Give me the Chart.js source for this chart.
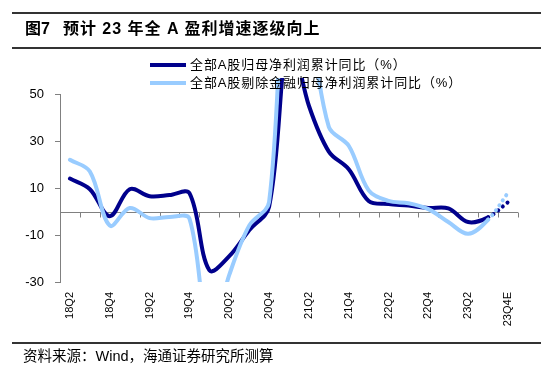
<!DOCTYPE html>
<html>
<head>
<meta charset="utf-8">
<script src="https://cdn.jsdelivr.net/npm/chart.js@4.4.1/dist/chart.umd.min.js"></script>
<style>
  html, body { margin: 0; padding: 0; background: #fff; }
  body { width: 554px; height: 379px; position: relative; overflow: hidden;
         font-family: "Liberation Sans", Arial, "Noto Sans CJK SC", sans-serif; }
  #c { position: absolute; left: 0; top: 0; }
  .rule { position: absolute; left: 12px; width: 529px; background: #333; }
  #title { position: absolute; left: 25px; top: 19px; font-size: 16px; font-weight: bold; color: #000; white-space: nowrap; line-height: 20px; letter-spacing: 1px; }
  #title .num { margin-right: 13px; letter-spacing: 0; }
  .leg { position: absolute; left: 150px; height: 18px; white-space: nowrap; }
  .leg .sw { position: absolute; left: 0; top: 7px; width: 36px; height: 4px; }
  .leg .tx { position: absolute; left: 40px; top: 0; font-size: 13px; line-height: 18px; color: #000; letter-spacing: 0.9px; }
  #foot { position: absolute; left: 23px; top: 346px; font-size: 14.5px; line-height: 20px; color: #000; white-space: nowrap; }
</style>
</head>
<body>
<canvas id="c" width="554" height="379"></canvas>
<div class="rule" style="top:12px;height:2px;"></div>
<div id="title"><span class="num">图7</span>预计 23 年全 A 盈利增速逐级向上</div>
<div class="rule" style="top:47px;height:2px;"></div>
<div class="leg" style="top:56px;"><div class="sw" style="background:#00008C"></div><div class="tx">全部A股归母净利润累计同比（%）</div></div>
<div class="leg" style="top:74px;"><div class="sw" style="background:#99CCFF"></div><div class="tx">全部A股剔除金融归母净利润累计同比（%）</div></div>
<div class="rule" style="top:342px;height:2px;"></div>
<div id="foot">资料来源：Wind，海通证券研究所测算</div>
<script>
// ---- data ----
const quarters = ['18Q2','18Q3','18Q4','19Q1','19Q2','19Q3','19Q4','20Q1','20Q2','20Q3','20Q4','21Q1',
                  '21Q2','21Q3','21Q4','22Q1','22Q2','22Q3','22Q4','23Q1','23Q2','23Q3','23Q4E'];
const seriesNames = ['全部A股归母净利润累计同比（%）', '全部A股剔除金融归母净利润累计同比（%）'];
const allA = [14, 9.5, -2, 9.5, 6.5, 7, 7.8, -25, -19, -8, 2, 75,
              45, 25.5, 18, 4.5, 3.2, 2.5, 1.5, 1.3, -4.5, -2.5, 4];
const allAexFin = [22, 17, -6, 1.5, -2.8, -2.3, -3, -55, -27, -6, 4, 130,
                   85, 36, 28, 9, 4.5, 3.5, 1, -4.5, -9.5, -3.5, 8];
const yTicks = [-30, -10, 10, 30, 50];
const forecastFrom = 21; // segment after this index is a projection (dotted)

const axisColor = '#808080';

const zeroAxis = {
  id: 'zeroAxis',
  beforeDatasetsDraw(chart) {
    const {ctx, chartArea, scales} = chart;
    const xs = scales.x, ys = scales.y;
    const y0 = Math.round(ys.getPixelForValue(0)) + 0.5;
    const w = xs.getPixelForValue(1) - xs.getPixelForValue(0);
    ctx.save();
    ctx.strokeStyle = axisColor;
    ctx.lineWidth = 1;
    ctx.beginPath();
    ctx.moveTo(chartArea.left, y0);
    ctx.lineTo(chartArea.right, y0);
    for (let i = 1; i <= quarters.length; i++) {
      const px = Math.round(xs.getPixelForValue(i) - w / 2) + 0.5;
      ctx.moveTo(px, y0);
      ctx.lineTo(px, y0 + 5);
    }
    ctx.stroke();
    ctx.restore();
  }
};

const dotted = ctx => ctx.p0DataIndex >= forecastFrom ? [0.1, 6] : undefined;

new Chart(document.getElementById('c'), {
  type: 'line',
  data: {
    labels: quarters,
    datasets: [
      { label: seriesNames[1], data: allAexFin, borderColor: '#99CCFF', borderWidth: 4,
        pointRadius: 0, tension: 0.35, borderCapStyle: 'round', borderJoinStyle: 'round',
        clip: {left: 2, top: 16, right: 6, bottom: 0}, segment: { borderDash: dotted } },
      { label: seriesNames[0], data: allA, borderColor: '#00008C', borderWidth: 4,
        pointRadius: 0, tension: 0.35, borderCapStyle: 'round', borderJoinStyle: 'round',
        clip: {left: 2, top: 16, right: 6, bottom: 0}, segment: { borderDash: dotted } }
    ]
  },
  options: {
    responsive: false,
    animation: false,
    devicePixelRatio: 1,
    layout: { padding: { left: 0, right: 36, top: 94, bottom: 0 } },
    plugins: { legend: { display: false }, tooltip: { enabled: false } },
    scales: {
      x: {
        type: 'category',
        offset: true,
        grid: { display: false, drawTicks: false },
        border: { display: false },
        ticks: {
          autoSkip: false, maxRotation: 90, minRotation: 90, padding: 10,
          color: '#000', font: { family: '"Liberation Sans", Arial', size: 11 },
          callback: (v, i) => (i % 2 === 0 ? quarters[i] : '')
        },
        afterFit: s => { s.height = 97; }
      },
      y: {
        min: yTicks[0], max: yTicks[yTicks.length - 1],
        afterBuildTicks: s => { s.ticks = yTicks.map(v => ({ value: v })); },
        grid: { drawOnChartArea: false, drawTicks: true, tickLength: 5, color: axisColor },
        border: { display: true, color: axisColor, width: 1 },
        ticks: { color: '#000', padding: 11, font: { family: '"Liberation Sans", Arial', size: 13 } },
        afterFit: s => { s.width = 60; }
      }
    }
  },
  plugins: [zeroAxis]
});
</script>
</body>
</html>
